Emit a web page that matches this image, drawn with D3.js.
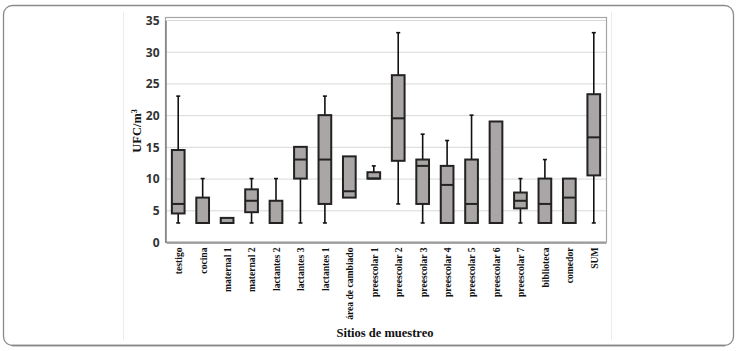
<!DOCTYPE html>
<html><head><meta charset="utf-8">
<script src="https://cdn.jsdelivr.net/npm/d3@7"></script>
<style>body{margin:0;background:#fff;}svg{display:block;}</style>
</head><body>
<svg id="c" width="736" height="351"></svg>
<script>
const categories = ["testigo","cocina","maternal 1","maternal 2","lactantes 2","lactantes 3","lactantes 1","área de cambiado","preescolar 1","preescolar 2","preescolar 3","preescolar 4","preescolar 5","preescolar 6","preescolar 7","biblioteca","comedor","SUM"];
const mins    = [3, 3, 3,   3,   3,   3,  3,  7,    10, 6,    3,  3,  3,  3,  3,   3,  3,  3];
const q1s     = [4.5,3, 3,  4.7, 3,   10, 6,  7,    10, 12.8, 6,  3,  3,  3,  5.3, 3,  3,  10.5];
const medians = [6, 3, 3,   6.5, 3,   13, 13, 8,    10, 19.5, 12, 9,  6,  3,  6.5, 6,  7,  16.5];
const q3s     = [14.5,7,3.8,8.3, 6.5, 15, 20, 13.5, 11, 26.3, 13, 12, 13, 19, 7.8, 10, 10, 23.3];
const maxs    = [23, 10,3.8,10,  10,  15, 23, 13.5, 12, 33,   17, 16, 20, 19, 10,  13, 10, 33];
const yTicks  = [0,5,10,15,20,25,30,35];

const svg = d3.select("#c");
// outer rounded frame
svg.append("rect").attr("x",3.5).attr("y",5.5).attr("width",730).attr("height",340)
  .attr("rx",9).attr("fill","none").attr("stroke","#8a8a8a").attr("stroke-width",1.3);
svg.append("line").attr("x1",12).attr("x2",725).attr("y1",345.5).attr("y2",345.5).attr("stroke","#888").attr("stroke-width",1.5);
// faint chart area lines
[123.5, 611.5].forEach(x=>svg.append("line").attr("x1",x).attr("x2",x).attr("y1",12).attr("y2",340).attr("stroke","#ececec"));

const x = d3.scaleBand().domain(categories).range([166,606]);
const y = d3.scaleLinear().domain([0,35]).range([242,20]);

// gridlines
svg.append("g").selectAll("line").data(yTicks.slice(1)).join("line")
  .attr("x1",165).attr("x2",607).attr("y1",d=>y(d)+0.5).attr("y2",d=>y(d)+0.5)
  .attr("stroke","#d9d9d9").attr("stroke-width",1);

// plot frame
svg.append("rect").attr("x",165.5).attr("y",17.5).attr("width",441).attr("height",224.5)
  .attr("fill","none").attr("stroke","#a6a6a6").attr("stroke-width",1.2);

// y axis
const ya = svg.append("g").attr("transform","translate(165.5,0.5)")
  .call(d3.axisLeft(y).tickValues(yTicks).tickSize(0).tickPadding(6));
ya.select(".domain").attr("stroke","#7f7f7f").attr("stroke-width",1.5);
ya.selectAll("text").attr("font-family","'Open Sans', Arial, sans-serif").attr("font-weight","bold")
  .attr("font-size","12px").attr("fill","#333");

// x axis
const xa = svg.append("g").attr("transform","translate(0,242.5)")
  .call(d3.axisBottom(x).tickSize(0).tickPadding(0));
xa.select(".domain").attr("stroke","#8c8c8c").attr("stroke-width",1.5);
xa.selectAll("text").attr("transform","rotate(-90)").attr("text-anchor","end")
  .attr("dy","0.4em").attr("dx","-5px").attr("y",0).attr("x",0)
  .attr("font-family","'Liberation Serif','Times New Roman',serif").attr("font-weight","bold")
  .attr("font-size","9.6px").attr("fill","#111");

// boxes
const bw = x.bandwidth()*0.52;
const g = svg.append("g");
categories.forEach((c,i)=>{
  const cx = x(c)+x.bandwidth()/2;
  const gg = g.append("g");
  if (maxs[i] > q3s[i]) {
    gg.append("line").attr("x1",cx).attr("x2",cx).attr("y1",y(q3s[i])).attr("y2",y(maxs[i])).attr("stroke","#111").attr("stroke-width",1.6);
    gg.append("line").attr("x1",cx-2).attr("x2",cx+2).attr("y1",y(maxs[i])).attr("y2",y(maxs[i])).attr("stroke","#111").attr("stroke-width",1.6);
  }
  if (mins[i] < q1s[i]) {
    gg.append("line").attr("x1",cx).attr("x2",cx).attr("y1",y(q1s[i])).attr("y2",y(mins[i])).attr("stroke","#111").attr("stroke-width",1.6);
    gg.append("line").attr("x1",cx-2).attr("x2",cx+2).attr("y1",y(mins[i])).attr("y2",y(mins[i])).attr("stroke","#111").attr("stroke-width",1.6);
  }
  gg.append("rect").attr("x",cx-bw/2).attr("y",y(q3s[i])).attr("width",bw)
    .attr("height",Math.max(0,y(q1s[i])-y(q3s[i])))
    .attr("fill","#aaa6a5").attr("stroke","#222").attr("stroke-width",2);
  gg.append("line").attr("x1",cx-bw/2).attr("x2",cx+bw/2).attr("y1",y(medians[i])).attr("y2",y(medians[i]))
    .attr("stroke","#222").attr("stroke-width",2);
});

// titles
svg.append("text").attr("x",385).attr("y",337).attr("text-anchor","middle")
  .attr("font-family","'Liberation Serif','Times New Roman',serif").attr("font-weight","bold")
  .attr("font-size","12.5px").attr("fill","#111").text("Sitios de muestreo");
const yt = svg.append("text").attr("transform","translate(141,131) rotate(-90)").attr("text-anchor","middle")
  .attr("font-family","'Liberation Serif','Times New Roman',serif").attr("font-weight","bold")
  .attr("font-size","12.5px").attr("fill","#111");
yt.append("tspan").text("UFC/m");
yt.append("tspan").attr("dy","-4").attr("font-size","8px").text("3");
</script>
</body></html>
